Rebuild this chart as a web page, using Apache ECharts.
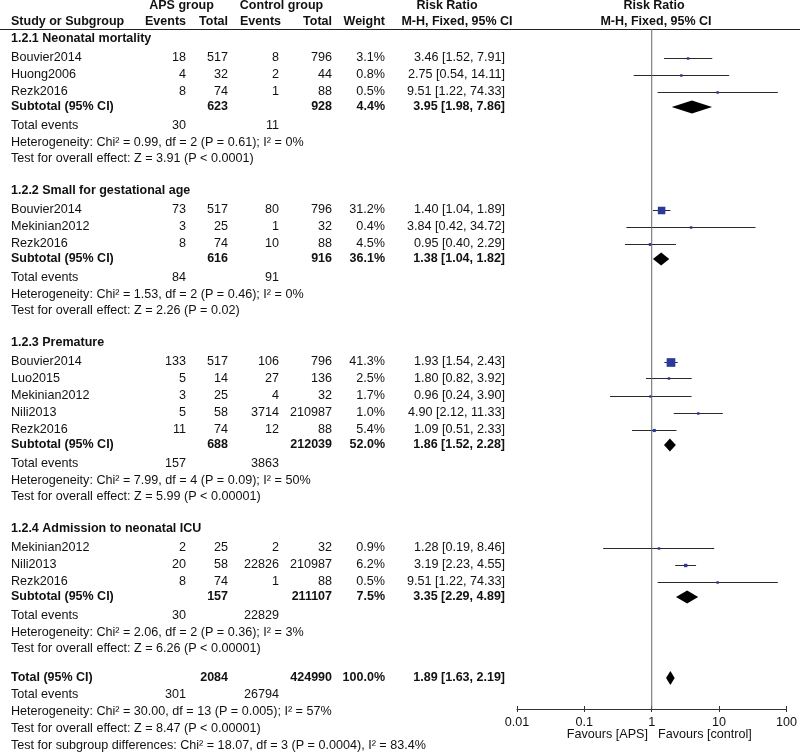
<!DOCTYPE html>
<html>
<head>
<meta charset="utf-8">
<script src="https://cdn.jsdelivr.net/npm/echarts@6/dist/echarts.min.js"></script>
<style>
html,body{margin:0;padding:0;background:#fff;}
#main{width:800px;height:755px;}
</style>
</head>
<body>
<div id="main"></div>
<script>
// ---------- DATA ----------
const groupTitle = ['1.2.1 Neonatal mortality', '1.2.2 Small for gestational age', '1.2.3 Premature', '1.2.4 Admission to neonatal ICU'];
const studyGroup = [0, 0, 0, 1, 1, 1, 2, 2, 2, 2, 2, 3, 3, 3];
const studyName = ['Bouvier2014', 'Huong2006', 'Rezk2016', 'Bouvier2014', 'Mekinian2012', 'Rezk2016', 'Bouvier2014', 'Luo2015', 'Mekinian2012', 'Nili2013', 'Rezk2016', 'Mekinian2012', 'Nili2013', 'Rezk2016'];
const apsEvents = [18, 4, 8, 73, 3, 8, 133, 5, 3, 5, 11, 2, 20, 8];
const apsTotal = [517, 32, 74, 517, 25, 74, 517, 14, 25, 58, 74, 25, 58, 74];
const ctrlEvents = [8, 2, 1, 80, 1, 10, 106, 27, 4, 3714, 12, 2, 22826, 1];
const ctrlTotal = [796, 44, 88, 796, 32, 88, 796, 136, 32, 210987, 88, 32, 210987, 88];
const weightPct = [3.1, 0.8, 0.5, 31.2, 0.4, 4.5, 41.3, 2.5, 1.7, 1.0, 5.4, 0.9, 6.2, 0.5];
const rr = [3.46, 2.75, 9.51, 1.40, 3.84, 0.95, 1.93, 1.80, 0.96, 4.90, 1.09, 1.28, 3.19, 9.51];
const rrLo = [1.52, 0.54, 1.22, 1.04, 0.42, 0.40, 1.54, 0.82, 0.24, 2.12, 0.51, 0.19, 2.23, 1.22];
const rrHi = [7.91, 14.11, 74.33, 1.89, 34.72, 2.29, 2.43, 3.92, 3.90, 11.33, 2.33, 8.46, 4.55, 74.33];

const subApsTotal = [623, 616, 688, 157];
const subCtrlTotal = [928, 916, 212039, 211107];
const subWeight = [4.4, 36.1, 52.0, 7.5];
const subRR = [3.95, 1.38, 1.86, 3.35];
const subLo = [1.98, 1.04, 1.52, 2.29];
const subHi = [7.86, 1.82, 2.28, 4.89];
const subApsEvents = [30, 84, 157, 30];
const subCtrlEvents = [11, 91, 3863, 22829];
const subHeterogeneity = [
  'Heterogeneity: Chi² = 0.99, df = 2 (P = 0.61); I² = 0%',
  'Heterogeneity: Chi² = 1.53, df = 2 (P = 0.46); I² = 0%',
  'Heterogeneity: Chi² = 7.99, df = 4 (P = 0.09); I² = 50%',
  'Heterogeneity: Chi² = 2.06, df = 2 (P = 0.36); I² = 3%'
];
const subOverall = [
  'Test for overall effect: Z = 3.91 (P < 0.0001)',
  'Test for overall effect: Z = 2.26 (P = 0.02)',
  'Test for overall effect: Z = 5.99 (P < 0.00001)',
  'Test for overall effect: Z = 6.26 (P < 0.00001)'
];

const totalApsTotal = 2084;
const totalCtrlTotal = 424990;
const totalWeight = 100.0;
const totalRR = 1.89;
const totalLo = 1.63;
const totalHi = 2.19;
const totalApsEvents = 301;
const totalCtrlEvents = 26794;
const totalNotes = [
  'Heterogeneity: Chi² = 30.00, df = 13 (P = 0.005); I² = 57%',
  'Test for overall effect: Z = 8.47 (P < 0.00001)',
  'Test for subgroup differences: Chi² = 18.07, df = 3 (P = 0.0004), I² = 83.4%'
];

const tickValues = [0.01, 0.1, 1, 10, 100];
const tickLabels = ['0.01', '0.1', '1', '10', '100'];
const favourLeft = 'Favours [APS]';
const favourRight = 'Favours [control]';

// ---------- LAYOUT ----------
const FONT = '"Liberation Sans", Arial, sans-serif';
const FS = 12.6;
const FSB = 12.5;
const TXT = '#111';
const colRight = [186, 228, 279, 332, 385];
const rrRight = 505;
const labelX = 11;

const headerY = [], studyY = [], subY = [], teY = [], hetY = [], testY = [];
let cy = 39;
for (let g = 0; g < groupTitle.length; g++) {
  headerY[g] = cy;
  let y = cy + 18.5;
  let last = y;
  studyGroup.forEach((sg, i) => { if (sg === g) { studyY[i] = y; last = y; y += 17; } });
  subY[g] = last + 15.5;
  teY[g] = subY[g] + 18.5;
  hetY[g] = teY[g] + 17;
  testY[g] = hetY[g] + 16.5;
  cy = testY[g] + 32;
}
const totalY = testY[testY.length - 1] + 29;
const totalTeY = totalY + 17;
const totalNoteY = [totalTeY + 17, totalTeY + 34, totalTeY + 50.5];

const fmt2 = v => v.toFixed(2);
const ciText = (e, l, h) => fmt2(e) + ' [' + fmt2(l) + ', ' + fmt2(h) + ']';

const graphics = [];
function txt(text, x, y, align, bold) {
  graphics.push({
    type: 'text', silent: true,
    style: {
      text: String(text), x: x, y: y,
      font: (bold ? 'bold ' + FSB : FS) + 'px ' + FONT,
      fill: TXT,
      textAlign: align, align: align,
      textVerticalAlign: 'middle', verticalAlign: 'middle'
    }
  });
}

// header
txt('APS group', 181.5, 6, 'center', true);
txt('Control group', 281.5, 6, 'center', true);
txt('Risk Ratio', 447, 6, 'center', true);
txt('Risk Ratio', 654, 6, 'center', true);
txt('Study or Subgroup', labelX, 22, 'left', true);
txt('Events', colRight[0], 22, 'right', true);
txt('Total', colRight[1], 22, 'right', true);
txt('Events', colRight[2] + 2, 22, 'right', true);
txt('Total', colRight[3], 22, 'right', true);
txt('Weight', colRight[4], 22, 'right', true);
txt('M-H, Fixed, 95% CI', 457, 22, 'center', true);
txt('M-H, Fixed, 95% CI', 656, 22, 'center', true);
graphics.push({ type: 'line', silent: true, shape: { x1: 0, y1: 29.5, x2: 800, y2: 29.5 }, style: { stroke: '#222', lineWidth: 1 } });

// groups
for (let g = 0; g < groupTitle.length; g++) {
  txt(groupTitle[g], labelX, headerY[g], 'left', true);
  studyGroup.forEach((sg, i) => {
    if (sg !== g) return;
    const y = studyY[i];
    txt(studyName[i], labelX, y, 'left', false);
    txt(apsEvents[i], colRight[0], y, 'right', false);
    txt(apsTotal[i], colRight[1], y, 'right', false);
    txt(ctrlEvents[i], colRight[2], y, 'right', false);
    txt(ctrlTotal[i], colRight[3], y, 'right', false);
    txt(weightPct[i].toFixed(1) + '%', colRight[4], y, 'right', false);
    txt(ciText(rr[i], rrLo[i], rrHi[i]), rrRight, y, 'right', false);
  });
  txt('Subtotal (95% CI)', labelX, subY[g], 'left', true);
  txt(subApsTotal[g], colRight[1], subY[g], 'right', true);
  txt(subCtrlTotal[g], colRight[3], subY[g], 'right', true);
  txt(subWeight[g].toFixed(1) + '%', colRight[4], subY[g], 'right', true);
  txt(ciText(subRR[g], subLo[g], subHi[g]), rrRight, subY[g], 'right', true);
  txt('Total events', labelX, teY[g], 'left', false);
  txt(subApsEvents[g], colRight[0], teY[g], 'right', false);
  txt(subCtrlEvents[g], colRight[2], teY[g], 'right', false);
  txt(subHeterogeneity[g], labelX, hetY[g], 'left', false);
  txt(subOverall[g], labelX, testY[g], 'left', false);
}
// total
txt('Total (95% CI)', labelX, totalY, 'left', true);
txt(totalApsTotal, colRight[1], totalY, 'right', true);
txt(totalCtrlTotal, colRight[3], totalY, 'right', true);
txt(totalWeight.toFixed(1) + '%', colRight[4], totalY, 'right', true);
txt(ciText(totalRR, totalLo, totalHi), rrRight, totalY, 'right', true);
txt('Total events', labelX, totalTeY, 'left', false);
txt(totalApsEvents, colRight[0], totalTeY, 'right', false);
txt(totalCtrlEvents, colRight[2], totalTeY, 'right', false);
totalNotes.forEach((t, k) => txt(t, labelX, totalNoteY[k], 'left', false));
// favours
txt(favourLeft, 648, 735, 'right', false);
txt(favourRight, 658, 735, 'left', false);

// ---------- PLOT DATA ----------
const GRID_TOP = 29, GRID_BOTTOM_Y = 709;
const plotData = [];
studyGroup.forEach((g, i) => plotData.push([0, rrLo[i], rrHi[i], rr[i], studyY[i], weightPct[i]]));
for (let g = 0; g < groupTitle.length; g++) plotData.push([1, subLo[g], subHi[g], subRR[g], subY[g], 6.5]);
plotData.push([1, totalLo, totalHi, totalRR, totalY, 7]);

function renderItem(params, api) {
  const t = api.value(0), lo = api.value(1), hi = api.value(2), est = api.value(3), yy = api.value(4), w = api.value(5);
  const pL = api.coord([lo, yy]), pH = api.coord([hi, yy]), pE = api.coord([est, yy]);
  if (t === 0) {
    const s = Math.max(2.5, 1.35 * Math.sqrt(w));
    const ly = Math.round(pE[1]) + 0.5;
    return {
      type: 'group', children: [
        { type: 'line', shape: { x1: pL[0], y1: ly, x2: pH[0], y2: ly }, style: { stroke: '#2a2a2a', lineWidth: 1 } },
        { type: 'rect', shape: { x: pE[0] - s / 2, y: ly - s / 2, width: s, height: s }, style: { fill: '#2b3a9a' } }
      ]
    };
  }
  const h = w;
  return {
    type: 'polygon',
    shape: { points: [[pL[0], pE[1]], [pE[0], pE[1] - h], [pH[0], pE[1]], [pE[0], pE[1] + h]] },
    style: { fill: '#000' }
  };
}

const chart = echarts.init(document.getElementById('main'), null, { renderer: 'canvas' });
chart.setOption({
  animation: false,
  backgroundColor: '#fff',
  grid: { left: 517, right: 12, top: GRID_TOP, bottom: 755 - GRID_BOTTOM_Y, containLabel: false },
  xAxis: [{
    type: 'log', logBase: 10, min: tickValues[0], max: tickValues[tickValues.length - 1],
    position: 'bottom',
    axisLine: { show: true, lineStyle: { color: '#333', width: 1 } },
    axisTick: { show: true, length: 3, lineStyle: { color: '#333', width: 1 } },
    splitLine: { show: false },
    axisLabel: {
      margin: 7, color: TXT, fontFamily: FONT, fontSize: FS,
      formatter: v => { const k = tickValues.findIndex(t => Math.abs(Math.log10(t) - Math.log10(v)) < 1e-6); return k >= 0 ? tickLabels[k] : ''; }
    }
  }, {
    type: 'log', logBase: 10, min: tickValues[0], max: tickValues[tickValues.length - 1],
    position: 'bottom',
    axisLine: { show: false },
    axisTick: { show: true, inside: true, length: 3, lineStyle: { color: '#333', width: 1 } },
    axisLabel: { show: false },
    splitLine: { show: false }
  }],
  yAxis: { type: 'value', inverse: true, min: GRID_TOP, max: GRID_BOTTOM_Y, show: false },
  graphic: graphics,
  series: [
    {
      type: 'line', xAxisIndex: 0, symbol: 'none', silent: true,
      lineStyle: { color: '#666', width: 1 },
      data: [[1, GRID_TOP], [1, GRID_BOTTOM_Y]]
    },
    {
      type: 'custom', xAxisIndex: 0, renderItem: renderItem, silent: true,
      encode: { x: [1, 2, 3], y: 4 },
      data: plotData
    }
  ]
});
</script>
</body>
</html>
